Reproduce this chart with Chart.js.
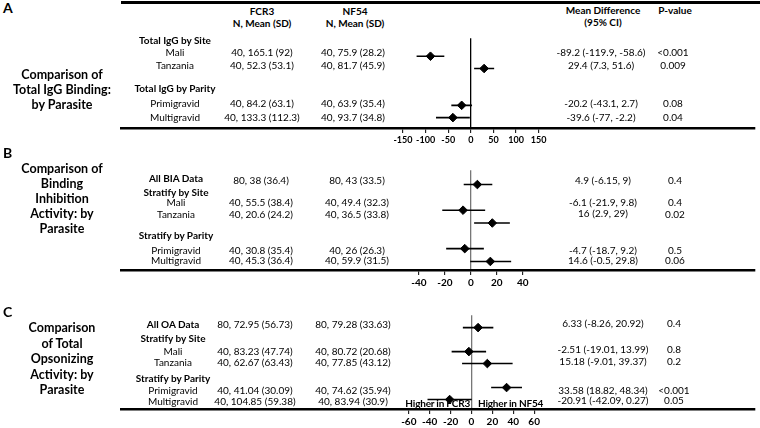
<!DOCTYPE html>
<html>
<head>
<meta charset="utf-8">
<script src="https://cdn.jsdelivr.net/npm/chart.js@4.4.1/dist/chart.umd.min.js"></script>
<style>
  body { margin: 0; background: #fff; }
  #page { position: relative; width: 760px; height: 428px; overflow: hidden; font-family: Lato, "Open Sans", sans-serif; color: #000; }
  .t { position: absolute; white-space: nowrap; line-height: 1; transform: translate(-50%, -50%); font-size: 10px; }
  .b { font-weight: bold; }
  .lab { font-weight: bold; font-size: 12.5px; }
  .hi { font-weight: bold; font-size: 10px; letter-spacing: -0.2px; }
  .hiL { transform: translate(-100%, -50%); }
  .hiR { transform: translate(0, -50%); }
  .letter { font-weight: bold; font-size: 14px; transform: none; }
  .rule { position: absolute; left: 121px; width: 639px; height: 2.5px; background: #000; }
  canvas { position: absolute; left: 0; }
</style>
</head>
<body>
<div id="page">
  <div class="rule" style="top:1px"></div>
  <canvas id="chartA" width="760" height="117" style="top:33px"></canvas>
  <canvas id="chartB" width="760" height="127" style="top:165px"></canvas>
  <canvas id="chartC" width="760" height="121" style="top:310px"></canvas>
</div>
<script>
  // ---- data: A, total IgG binding
  const A_ROWS = ["Mali", "Tanzania", "Primigravid", "Multigravid"];
  const A_FCR3 = ["40, 165.1 (92)", "40, 52.3 (53.1)", "40, 84.2 (63.1)", "40, 133.3 (112.3)"];
  const A_NF54 = ["40, 75.9 (28.2)", "40, 81.7 (45.9)", "40, 63.9 (35.4)", "40, 93.7 (34.8)"];
  const A_MD = [-89.2, 29.4, -20.2, -39.6];
  const A_LO = [-119.9, 7.3, -43.1, -77];
  const A_HI = [-58.6, 51.6, 2.7, -2.2];
  const A_MD_TEXT = ["-89.2 (-119.9, -58.6)", "29.4 (7.3, 51.6)", "-20.2 (-43.1, 2.7)", "-39.6 (-77, -2.2)"];
  const A_P = ["<0.001", "0.009", "0.08", "0.04"];
  const A_TICKS = [-150, -100, -50, 0, 50, 100, 150];

  // ---- data: B, binding inhibition
  const B_ROWS = ["All BIA Data", "Mali", "Tanzania", "Primigravid", "Multigravid"];
  const B_FCR3 = ["80, 38 (36.4)", "40, 55.5 (38.4)", "40, 20.6 (24.2)", "40, 30.8 (35.4)", "40, 45.3 (36.4)"];
  const B_NF54 = ["80, 43 (33.5)", "40, 49.4 (32.3)", "40, 36.5 (33.8)", "40, 26 (26.3)", "40, 59.9 (31.5)"];
  const B_MD = [5, -6, 16.5, -4.7, 15];
  const B_LO = [-5.5, -22, 2.5, -19, -0.5];
  const B_HI = [16.5, 11, 30, 10, 31];
  const B_MD_TEXT = ["4.9 (-6.15, 9)", "-6.1 (-21.9, 9.8)", "16 (2.9, 29)", "-4.7 (-18.7, 9.2)", "14.6 (-0.5, 29.8)"];
  const B_P = ["0.4", "0.4", "0.02", "0.5", "0.06"];
  const B_TICKS = [-40, -20, 0, 20, 40];

  // ---- data: C, total opsonizing activity
  const C_ROWS = ["All OA Data", "Mali", "Tanzania", "Primigravid", "Multigravid"];
  const C_FCR3 = ["80, 72.95 (56.73)", "40, 83.23 (47.74)", "40, 62.67 (63.43)", "40, 41.04 (30.09)", "40, 104.85 (59.38)"];
  const C_NF54 = ["80, 79.28 (33.63)", "40, 80.72 (20.68)", "40, 77.85 (43.12)", "40, 74.62 (35.94)", "40, 83.94 (30.9)"];
  const C_MD = [6.33, -2.51, 15.18, 33.58, -20.91];
  const C_LO = [-8.26, -19.01, -9.01, 18.82, -42.09];
  const C_HI = [20.92, 13.99, 39.37, 48.34, 0.27];
  const C_MD_TEXT = ["6.33 (-8.26, 20.92)", "-2.51 (-19.01, 13.99)", "15.18 (-9.01, 39.37)", "33.58 (18.82, 48.34)", "-20.91 (-42.09, 0.27)"];
  const C_P = ["0.4", "0.8", "0.2", "<0.001", "0.05"];
  const C_TICKS = [-60, -40, -20, 0, 20, 40, 60];

  // ---- layout
  const page = document.getElementById("page");
  function put(text, x, y, cls) {
    const d = document.createElement("div");
    d.className = "t " + (cls || "");
    d.textContent = text;
    d.style.left = x + "px";
    d.style.top = y + "px";
    page.appendChild(d);
  }
  function letter(text, y) {
    const d = document.createElement("div");
    d.className = "t letter";
    d.textContent = text;
    d.style.left = "3px";
    d.style.top = y + "px";
    page.appendChild(d);
  }
  function block(lines, y0, step) {
    lines.forEach((l, i) => put(l, 62, y0 + i * step, "lab"));
  }

  // headers
  put("FCR3", 262, 11, "b");
  put("N, Mean (SD)", 262, 23, "b");
  put("NF54", 355, 11, "b");
  put("N, Mean (SD)", 355, 23, "b");
  put("Mean Difference", 603, 10, "b");
  put("(95% CI)", 603, 22, "b");
  put("P-value", 675, 10, "b");

  // panel A text
  letter("A", 1);
  block(["Comparison of", "Total IgG Binding:", "by Parasite"], 75, 15);
  put("Total IgG by Site", 175, 40, "b");
  put("Total IgG by Parity", 175, 88, "b");
  const A_Y = [52, 65, 103, 117];
  A_ROWS.forEach((r, i) => {
    put(r, 175, A_Y[i]);
    put(A_FCR3[i], 262, A_Y[i]);
    put(A_NF54[i], 353, A_Y[i]);
    put(A_MD_TEXT[i], 601, A_Y[i]);
    put(A_P[i], 673, A_Y[i]);
  });

  // panel B text
  letter("B", 146);
  block(["Comparison of", "Binding", "Inhibition", "Activity: by", "Parasite"], 169, 15);
  put("Stratify by Site", 176, 192, "b");
  put("Stratify by Parity", 176, 235, "b");
  const B_Y = [180, 202, 214, 250, 260];
  B_ROWS.forEach((r, i) => {
    put(r, 176, B_Y[i] - (i === 0 ? 2 : 0), i === 0 ? "b" : "");
    put(B_FCR3[i], 261, B_Y[i]);
    put(B_NF54[i], 357, B_Y[i]);
    put(B_MD_TEXT[i], 603, B_Y[i] - (i === 2 ? 1 : 0));
    put(B_P[i], 675, B_Y[i]);
  });

  // panel C text
  letter("C", 305);
  block(["Comparison", "of Total", "Opsonizing", "Activity: by", "Parasite"], 328, 15.5);
  put("Stratify by Site", 173, 338, "b");
  put("Stratify by Parity", 173, 378, "b");
  const C_Y = [324, 351, 362, 390, 401];
  const C_MD_Y = [323, 349, 361, 390, 400];
  C_ROWS.forEach((r, i) => {
    put(r, 173, C_Y[i], i === 0 ? "b" : "");
    put(C_FCR3[i], 255, C_Y[i]);
    put(C_NF54[i], 353, C_Y[i]);
    put(C_MD_TEXT[i], 603, C_MD_Y[i]);
    put(C_P[i], 674, C_MD_Y[i]);
  });
  put("Higher in FCR3", 470, 403, "hi hiL");
  put("Higher in NF54", 478, 403, "hi hiR");

  // ---- forest plots
  function forest(id, o) {
    const ciSets = o.md.map((m, i) => ({
      data: [{ x: o.lo[i], y: o.slot[i] }, { x: o.hi[i], y: o.slot[i] }],
      showLine: true,
      borderColor: "#000",
      borderWidth: 1.6,
      pointRadius: 0,
    }));
    const pts = {
      data: o.md.map((m, i) => ({ x: m, y: o.slot[i] })),
      pointStyle: "rectRot",
      pointRadius: 4.3,
      backgroundColor: "#000",
      borderColor: "#000",
    };
    new Chart(document.getElementById(id), {
      type: "scatter",
      data: { datasets: [...ciSets, pts] },
      options: {
        responsive: false,
        animation: false,
        events: [],
        layout: { padding: { left: 121, right: 0, top: 0, bottom: 0 } },
        plugins: { legend: { display: false }, tooltip: { enabled: false } },
        scales: {
          x: {
            type: "linear",
            min: o.xmin,
            max: o.xmax,
            afterBuildTicks: (s) => { s.ticks = o.ticks.map((v) => ({ value: v })); },
            afterFit: (s) => { s.height = 22; },
            grid: {
              color: (c) => (c.tick && c.tick.value === 0 ? o.zero : "rgba(0,0,0,0)"),
              lineWidth: 1.3,
              tickLength: 5,
              tickColor: "#000",
              tickWidth: 1,
            },
            border: { display: true, color: "#000", width: 2.5 },
            ticks: {
              font: { family: "Lato", weight: "bold", size: o.tickSize },
              color: "#000",
              padding: 2,
              maxRotation: 0,
              autoSkip: false,
            },
          },
          y: { type: "linear", display: false, min: o.ymin, max: o.ymax, reverse: true },
        },
      },
    });
  }

  forest("chartA", { md: A_MD, lo: A_LO, hi: A_HI, slot: [1, 2, 5, 6], ticks: A_TICKS, tickSize: 9,
    xmin: -773.6, xmax: 627.8, ymin: -0.46, ymax: 6.846, zero: "#000" });
  forest("chartB", { md: B_MD, lo: B_LO, hi: B_HI, slot: [0, 2, 3, 5, 6], ticks: B_TICKS, tickSize: 10,
    xmin: -269.2, xmax: 218.4, ymin: -1.111, ymax: 6.667, zero: "#777" });
  forest("chartC", { md: C_MD, lo: C_LO, hi: C_HI, slot: [0, 2, 3, 5, 6], ticks: C_TICKS, tickSize: 10,
    xmin: -335.5, xmax: 271.1, ymin: -1.026, ymax: 6.789, zero: "#777" });
</script>
</body>
</html>
